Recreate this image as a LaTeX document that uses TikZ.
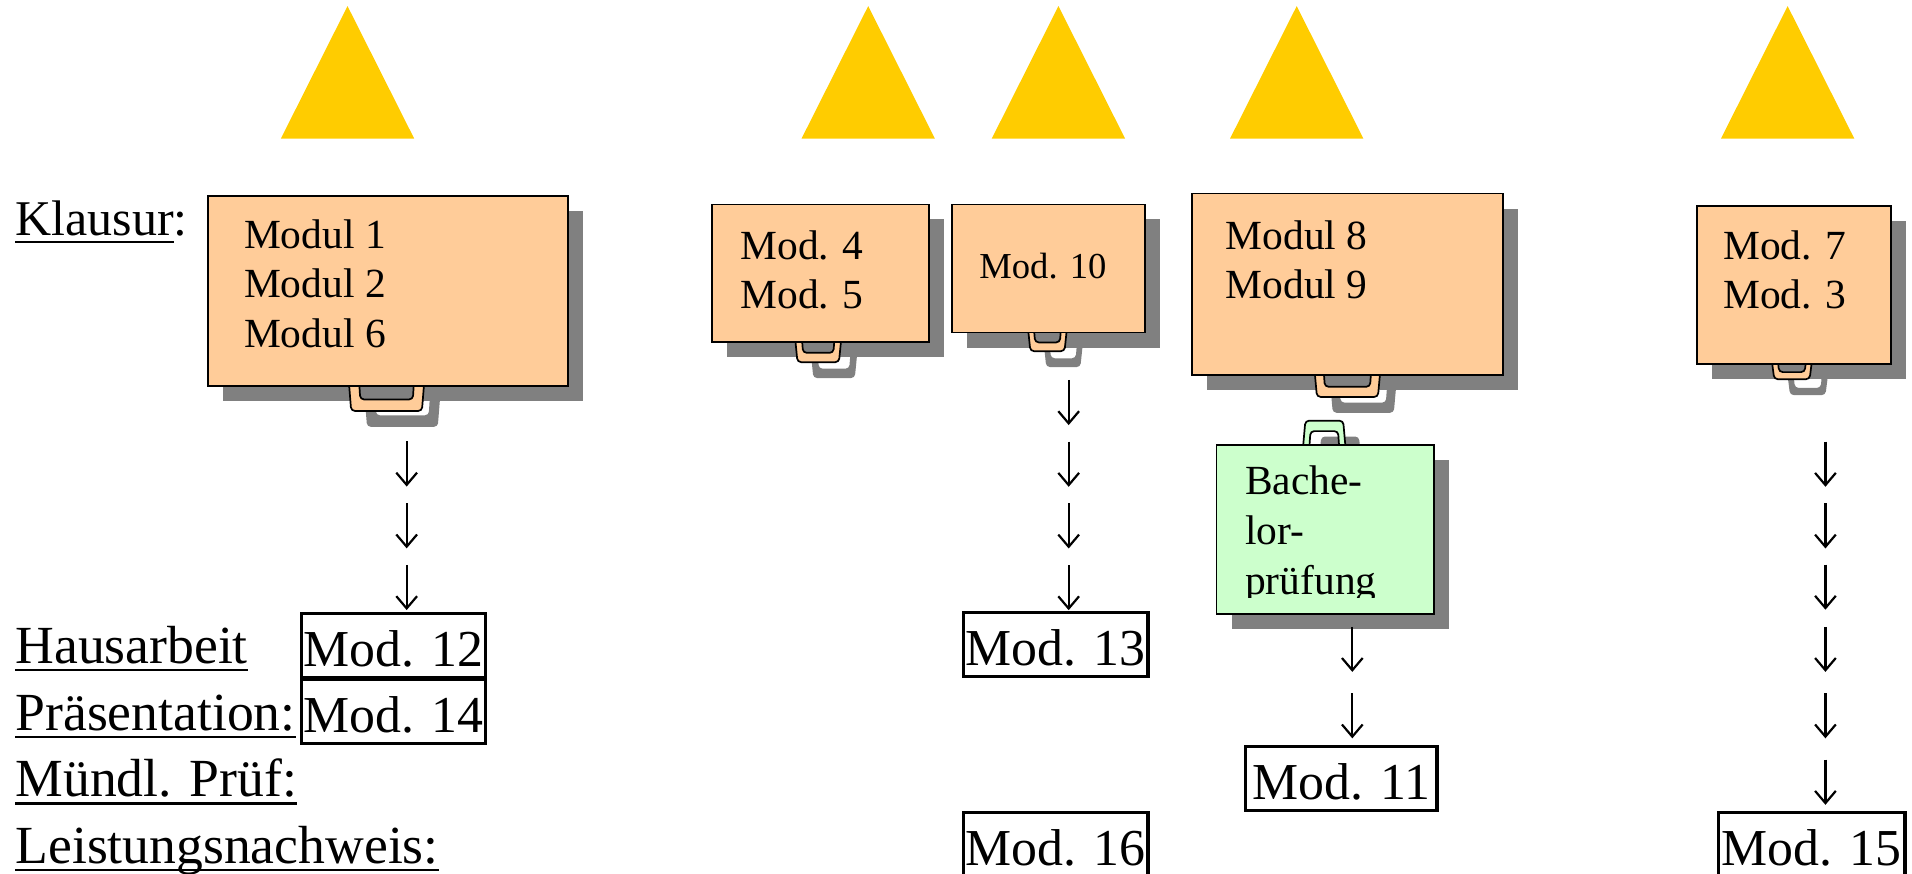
\documentclass[tikz,border=0pt]{standalone}
\usepackage{fontspec}
\setmainfont{Liberation Serif}
\usetikzlibrary{arrows.meta}

\definecolor{caseorange}{HTML}{FFCC99}
\definecolor{casegreen}{HTML}{CCFFCC}
\definecolor{coneyellow}{HTML}{FFCC00}
\definecolor{shadegray}{HTML}{808080}

% underlined row label
\newsavebox\ulbox
\newcommand\ulabel[1]{\sbox\ulbox{#1}\rlap{\rule[-6.5pt]{\wd\ulbox}{2.2pt}}\usebox\ulbox}

% handle of a case: style, centre x, width, edge y, depth
\newcommand\grip[5]{%
  \path[#1, even odd rule, rounded corners=3pt]
    (#2-#3/2, #4-0.2*#5) -- (#2-#3/2+2, #4+#5) -- (#2+#3/2-2, #4+#5) -- (#2+#3/2, #4-0.2*#5) -- cycle
    (#2-#3/2+0.12*#3+1, #4-0.2*#5) -- (#2-#3/2+0.12*#3+2, #4+0.55*#5)
      -- (#2+#3/2-0.12*#3-2, #4+0.55*#5) -- (#2+#3/2-0.12*#3-1, #4-0.2*#5) -- cycle;}

\begin{document}
\begin{tikzpicture}[x=1pt, y=-1pt,
    cone/.style={fill=coneyellow},
    shade/.style={fill=shadegray},
    case/.style={draw=black, line width=1.4pt, fill=caseorange, inner sep=0pt, anchor=north west},
    handle/.style={draw=black, line width=1.4pt, fill=caseorange},
    modtext/.style={font=\fontsize{34}{40.5}\selectfont, align=left, anchor=north west, inner sep=0pt},
    rowlabel/.style={font=\fontsize{44}{54.6}\selectfont, anchor=base west, inner sep=0pt},
    modbox/.style={draw=black, line width=2.7pt, font=\fontsize{42.5}{54.6}\selectfont, minimum width=151pt,
        minimum height=52.5pt, inner sep=0pt, text height=33.5pt, text depth=0pt, anchor=north west},
    flow/.style={-{Straight Barb[length=10pt,width=17pt]}, line width=1.8pt}]

    \useasboundingbox (0,0) rectangle (1568,716);
    \clip (0,0) rectangle (1568,716);

    % cones
    \foreach \x in {285,712,868,1063.4,1466} {
        \fill[cone] (\x,5) -- (\x+54.7,113.7) -- (\x-54.7,113.7) -- cycle;
    }

    % case Modul 1/2/6
    \fill[shade] (183,173) rectangle (478,329);
    \grip{shade, shift={(13,13)}}{317}{62}{316}{21}
    \grip{handle}{317}{62}{316}{21}
    \node[case, minimum width=295pt, minimum height=156pt] (caseA) at (170,160) {};
    \node[modtext] (textA) at (200,179.8) {Modul 1\\Modul 2\\Modul 6};

    % case Mod. 4/5
    \fill[shade] (596,180) rectangle (774,293);
    \grip{shade, shift={(13,13)}}{671}{38}{280}{17}
    \grip{handle}{671}{38}{280}{17}
    \node[case, minimum width=178pt, minimum height=113pt] (caseB) at (583,167) {};
    \node[modtext] (textB) at (607,188.8) {Mod. 4\\Mod. 5};

    % case Mod. 10
    \fill[shade] (793,180) rectangle (951,285);
    \grip{shade, shift={(13,13)}}{859}{32}{272}{16}
    \grip{handle}{859}{32}{272}{16}
    \node[case, minimum width=158pt, minimum height=105pt] (caseC) at (780,167) {};
    \node[modtext, font=\fontsize{30}{36}\selectfont] (textC) at (803,207.5) {Mod. 10};

    % case Modul 8/9
    \fill[shade] (990,171) rectangle (1245,320);
    \grip{shade, shift={(13,13)}}{1105}{54}{307}{18.5}
    \grip{handle}{1105}{54}{307}{18.5}
    \node[case, minimum width=255pt, minimum height=149pt] (caseD) at (977,158) {};
    \node[modtext] (textD) at (1005,180.8) {Modul 8\\Modul 9};

    % case Mod. 7/3
    \fill[shade] (1404,181) rectangle (1563,311);
    \grip{shade, shift={(13,13)}}{1469.5}{33}{298}{13}
    \grip{handle}{1469.5}{33}{298}{13}
    \node[case, minimum width=159pt, minimum height=130pt] (caseE) at (1391,168) {};
    \node[modtext] (textE) at (1413,188.8) {Mod. 7\\Mod. 3};

    % case Bachelorpruefung
    \fill[shade] (1010,377) rectangle (1188,516);
    \grip{shade, shift={(13,13)}}{1086}{35}{364}{-19}
    \grip{handle, fill=casegreen}{1086}{35}{364}{-19}
    \node[case, fill=casegreen, minimum width=178pt, minimum height=139pt] (caseF) at (997,364) {};
    \begin{scope}
        \clip (997,364) rectangle (1175,490);
        \node[modtext, font=\fontsize{34}{41}\selectfont] (textF) at (1021,381.8) {Bache-\\lor-\\prüfung};
    \end{scope}

    % arrows
    \foreach \x/\ylist in {333.5/{399,449.7,500.3}, 876.4/{348.6,399.2,449.8,500.4},
                           1109/{551,605.5}, 1497/{399.2,449.8,500,551,605.5,660}} {
        \foreach \y in \ylist {
            \draw[flow] (\x,\y-37) -- (\x,\y);
        }
    }

    % row labels
    \node[rowlabel, font=\fontsize{41}{54.6}\selectfont] (klausur) at (12.5,193) {\ulabel{Klausur}:};
    \node[rowlabel] (haus) at (12.5,544) {\ulabel{Hausarbeit}};
    \node[rowlabel] (praes) at (12.5,599) {\ulabel{Präsentation:}};
    \node[rowlabel] (muendl) at (12.5,653.5) {\ulabel{Mündl. Prüf:}};
    \node[rowlabel] (leist) at (12.5,708) {\ulabel{Leistungsnachweis:}};

    % module boxes
    \node[modbox] (mod12) at (246,502) {Mod. 12};
    \node[modbox] (mod14) at (246,556) {Mod. 14};
    \node[modbox] (mod13) at (789,501) {Mod. 13};
    \node[modbox, minimum width=157pt] (mod11) at (1020,611) {Mod. 11};
    \node[modbox, minimum height=53.5pt] (mod16) at (789,665) {Mod. 16};
    \node[modbox, minimum width=153pt, minimum height=53.5pt] (mod15) at (1408,665) {Mod. 15};

\end{tikzpicture}
\end{document}
